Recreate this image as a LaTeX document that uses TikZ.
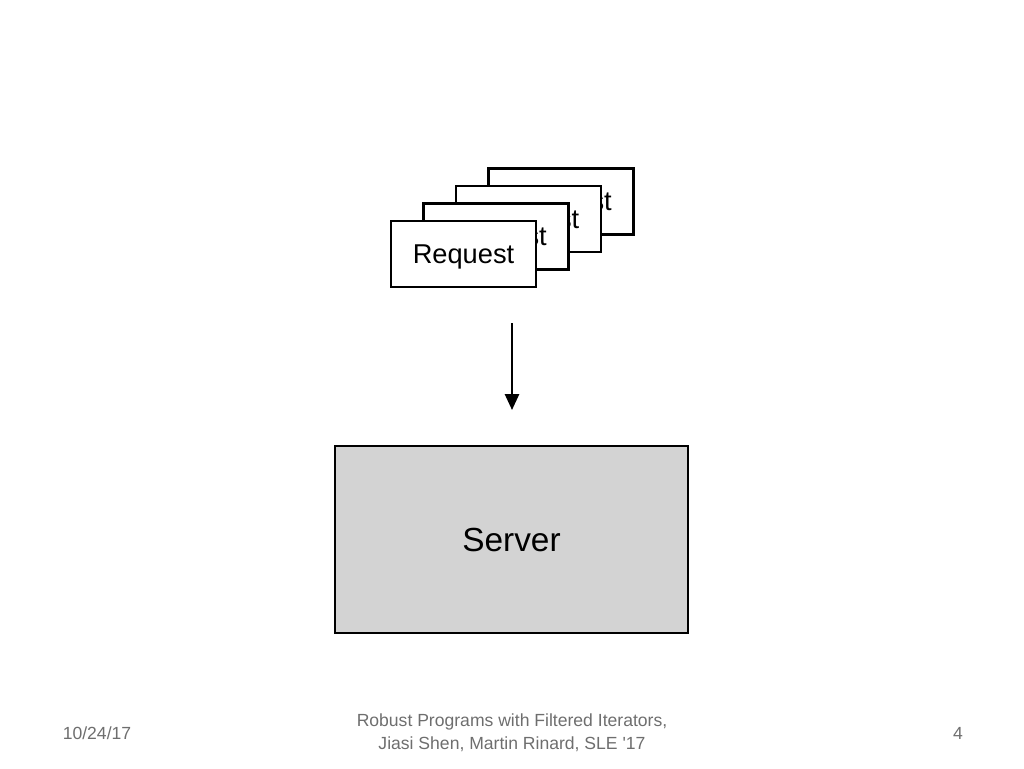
\documentclass[tikz,border=0pt]{standalone}
\usepackage{fontspec}
\setmainfont{Liberation Sans}
\newfontfamily\footfont{Liberation Sans}
\usepackage{xcolor}
\usetikzlibrary{calc, arrows.meta}

\definecolor{servergray}{RGB}{211,211,211}
\definecolor{footgray}{RGB}{110,110,110}

\tikzset{
	reqbox/.style = {draw, line width = 1.2pt, fill = white, minimum width = 2.9cm, minimum height = 1.32cm, inner sep = 0pt, text depth = 0pt, font = \fontsize{15.5}{18}\selectfont},
	serverbox/.style = {draw, line width = 1.2pt, fill = servergray, minimum width = 7.06cm, minimum height = 3.74cm, inner sep = 0pt, font = \fontsize{19}{22}\selectfont},
	foot/.style = {text = footgray, font = \footfont\fontsize{10}{13}\selectfont, align = center}
}

\begin{document}
\begin{tikzpicture}[x = 0.02cm, y = -0.02cm]
	\def\dx{32.5};
	\def\dy{17.5};
	
	\useasboundingbox (0,0) rectangle (1024,768);
	
	% stack of requests, back one first
	\foreach \i in {3,2,1,0}
		\node [reqbox] (req\i) at ({463.5 + \dx*\i},{254 - \dy*\i}) {Request};
	
	\node [serverbox] (server) at (511.5,539.5) {Server};
	
	\coordinate (arrowtop) at (512,323);
	\coordinate (arrowtip) at (512,410);
	\draw [line width = 1.2pt, -{Triangle[length = 9pt, width = 8pt]}] (arrowtop) -- (arrowtip);
	
	% footer
	\node [foot] (date) at (97,733) {10/24/17};
	\node [foot] (title) at (512,733) {Robust Programs with Filtered Iterators,\\Jiasi Shen, Martin Rinard, SLE '17};
	\node [foot] (page) at (958,733) {4};
\end{tikzpicture}
\end{document}
